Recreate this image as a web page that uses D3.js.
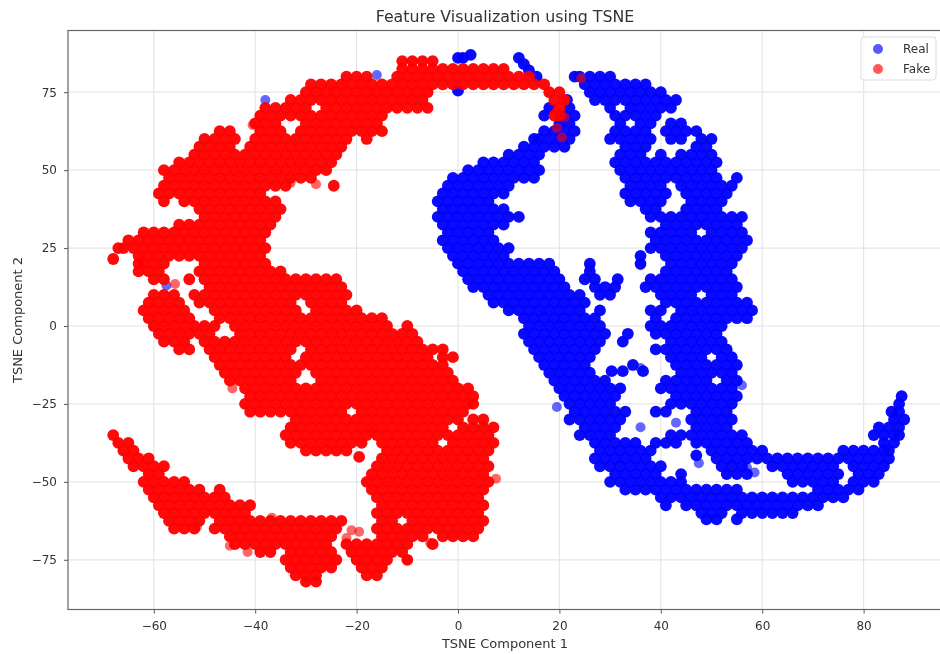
<!DOCTYPE html>
<html><head><meta charset="utf-8">
<script src="https://cdnjs.cloudflare.com/ajax/libs/d3/7.8.5/d3.min.js"></script>
<style>html,body{margin:0;padding:0;background:#fff}svg{display:block;filter:blur(0.55px)}text{font-family:"DejaVu Sans",sans-serif;fill:#333}</style>
</head><body><div id="c"></div>
<script>
const titleText = "Feature Visualization using TSNE";
const xLabel = "TSNE Component 1";
const yLabel = "TSNE Component 2";
const xTicks = [-60,-40,-20,0,20,40,60,80];
const yTicks = [-75,-50,-25,0,25,50,75];
const seriesNames = ["Real","Fake"];
const seriesColors = ["#0000ff","#ff0000"];

// Rows: [y, [x, x, ...]]
const realRows = [
[87,[2.5]],[86,[0,1,12]],[84,[13]],[82,[14]],[80,[15.5,23,24,26,28,30]],
[77.5,[25,27,29,31,33,35,37]],[75.5,[0]],[75,[26,28,30,32,34,36,38,40]],
[72.5,[21.5,27,29,31,33,35,37,39,41,43]],[70,[18,22,30,34,36,38,40,42]],
[67.5,[17,21,23,31,33,35,37,39]],[65,[20,22,32,36,38,42,44]],
[62.5,[17,19,21,23,31,33,35,37,41,43,45,47]],[60,[15,16,18,20,22,30,32,34,36,38,42,44,48,50]],
[57.5,[13,15,17,19,21,33,35,37,47,49]],[55,[10,12,14,16,32,34,36,40,44,46,48,50]],
[52.5,[5,7,9,11,13,15,31,33,35,37,39,41,43,45,47,49,51]],
[50,[2,4,6,8,10,12,14,16,32,34,36,38,40,42,44,46,48,50]],
[47.5,[-1,1,3,5,7,9,11,13,15,33,35,37,39,41,43,45,47,49,51,55]],
[45,[-2,0,2,4,6,8,10,34,36,38,40,44,46,48,50,52,54]],
[42.5,[-3,-1,1,3,5,7,9,33,35,37,39,41,45,47,49,51,53]],
[40,[-4,-2,0,2,4,6,34,36,38,40,46,48,50,52]],
[37.5,[-3,-1,1,3,5,7,9,37,39,45,47,49,51]],
[35,[-4,-2,0,2,4,6,8,10,12,38,40,42,44,46,48,50,52,54,56]],
[32.5,[-3,-1,1,3,5,7,9,41,43,45,47,49,51,53,55]],
[30,[-2,0,2,4,6,38,40,42,44,46,50,52,54,56]],
[27.5,[-3,-1,1,3,5,7,39,41,43,45,47,49,51,53,55,57]],
[25,[-2,0,2,4,6,8,10,38,40,42,44,46,48,50,52,54,56]],
[22.5,[-1,1,3,5,7,9,36,41,43,45,47,49,51,53,55]],
[20,[0,2,4,6,8,10,12,14,16,18,26,36,42,44,46,48,50,52,54]],
[17.5,[1,3,5,7,9,11,13,15,17,19,26,41,43,45,47,49,51,53]],
[15,[2,4,6,8,10,12,14,16,18,20,25,27,31.5,38,40,42,44,46,48,50,52,54]],
[12.5,[3,5,7,9,11,13,15,17,19,21,27,29,31,37,39,41,43,45,47,49,51,53,55]],
[10,[6,8,10,12,14,16,18,20,22,24,28,30,40,42,44,46,50,52,54]],
[7.5,[7,9,11,13,15,17,19,21,23,25,41,43,45,47,49,51,53,55,57]],
[5,[10,12,14,16,18,20,22,24,28,38,40,44,46,48,50,52,54,56,58]],
[2.5,[13,15,17,19,21,23,25,27,39,43,45,47,49,51,53,55,57]],
[0,[14,16,18,20,22,24,26,28,38,40,42,44,46,48,50,52]],
[-2.5,[13,15,17,19,21,23,25,27,29,33.5,39,41,43,45,47,49,51]],
[-5,[14,16,18,20,22,24,26,28,32.5,42,44,46,48,50,52]],
[-7.5,[15,17,19,21,23,25,27,39,41,43,45,47,49,51,53]],
[-10,[16,18,20,22,24,26,42,44,46,48,52,54]],
[-12.5,[17,19,21,23,25,34.5,43,45,47,49,51,53,55]],
[-14.5,[30.3,32.5,36.5]],
[-15,[18,20,22,24,26,44,46,48,50,52,54]],
[-17.5,[19,21,23,25,27,29,41,43,45,47,49,53,55]],
[-20,[20,22,24,26,28,30,32,40,42,44,46,48,50,52,54]],
[-22.5,[21,23,25,27,29,31,43,45,47,49,51,53,55,87.5]],
[-25,[22,24,26,28,30,42,44,46,48,50,52,54,87]],
[-27.5,[23,25,27,29,31,33,39,41,47,49,51,53,85.5,87]],
[-30,[22,24,26,28,30,32,46,48,50,52,54,86,88]],
[-32.5,[25,27,29,31,47,49,51,53,83,85,87]],
[-35,[24,26,28,30,42,44,46,48,50,52,54,56,82,84,86,87]],
[-37.5,[27,29,31,33,35,39,41,43,47,49,51,53,55,57,84,86]],
[-40,[28,30,32,34,36,38,50,52,54,56,58,60,76,78,80,82,84,85]],
[-41.5,[47]],
[-42.5,[27,29,31,33,35,37,51,53,55,57,59,61,63,65,67,69,71,73,75,77,79,81,83,85]],
[-45,[28,30,32,34,36,38,40,52,54,56,62,64,66,68,70,72,74,78,80,82,84]],
[-47.5,[31,33,35,37,39,44,53,55,57,65,67,69,71,73,75,79,81,83]],
[-50,[30,32,34,36,38,40,42,44,66,68,70,72,74,78,80,82]],
[-52.5,[33,35,37,39,41,43,45,47,49,51,53,55,71,73,75,77,79]],
[-55,[40,42,44,46,48,50,52,54,56,58,60,62,64,66,68,70,72,74,76]],
[-57.5,[41,45,47,49,51,53,55,57,59,61,63,65,67,69,71]],
[-60,[48,50,52,56,58,60,62,64,66]],
[-62,[49,51,55]]
];
const realFaint = [[-16,80.5],[-38,72.5],[-57.5,13],[19.5,-26],[36,-32.5],[36,-13.5],[43,-31],[47.5,-44],[57,-45.5],[58.5,-47],[56,-19],[26,19],[36,19.5]];

const fakeRows = [
[85,[-11,-9,-7,-5]],
[82.5,[-11,-9,-7,-5,-3,-1,1,3,5,7,9]],
[80,[-22,-20,-18,-12,-10,-8,-6,-4,-2,0,2,4,6,8,10,12,14]],
[77.5,[-29,-27,-25,-23,-21,-19,-17,-15,-13,-11,-9,-7,-5,-3,-1,1,3,5,7,9,11,13,15,17]],
[75,[-30,-28,-26,-24,-22,-20,-18,-16,-14,-12,-10,-8,-6,18,20]],
[72.5,[-33,-31,-29,-27,-25,-23,-21,-19,-17,-15,-13,-11,-9,-7,19,21]],
[70,[-38,-36,-34,-32,-30,-26,-24,-22,-20,-18,-16,-14,-12,-10,-8,-6,20]],
[67.5,[-39,-37,-35,-33,-31,-29,-27,-25,-23,-21,-19,-17,-15,19,20]],
[65,[-40,-38,-36,-30,-28,-26,-24,-22,-20,-18,-16]],
[62.5,[-47,-45,-39,-37,-35,-31,-29,-27,-25,-23,-21,-19,-17,-15]],
[60,[-50,-48,-46,-44,-40,-38,-36,-34,-32,-30,-28,-26,-24,-22,-18]],
[57.5,[-51,-49,-47,-45,-41,-39,-37,-35,-33,-31,-29,-27,-25,-23]],
[55,[-52,-50,-48,-46,-44,-42,-40,-38,-36,-34,-32,-30,-28,-26,-24]],
[52.5,[-55,-53,-51,-49,-47,-45,-43,-41,-39,-37,-35,-33,-31,-29,-27,-25]],
[50,[-58,-56,-54,-52,-50,-48,-46,-44,-42,-40,-38,-36,-34,-32,-30,-28,-26]],
[47.5,[-57,-55,-53,-51,-49,-47,-45,-43,-41,-39,-37,-35,-33,-31,-29]],
[45,[-58,-56,-54,-52,-50,-48,-46,-44,-42,-40,-38,-36,-34,-24.5]],
[42.5,[-59,-57,-55,-53,-51,-49,-47,-45,-43,-41,-39]],
[40,[-58,-54,-52,-50,-48,-46,-44,-42,-40,-38,-36]],
[37.5,[-51,-49,-47,-45,-43,-41,-39,-37,-35]],
[35,[-50,-48,-46,-44,-42,-40,-38,-36]],
[32.5,[-55,-53,-51,-49,-47,-45,-43,-41,-39,-37]],
[30,[-62,-60,-58,-56,-54,-52,-50,-48,-46,-44,-42,-40,-38]],
[27.5,[-65,-63,-61,-59,-57,-55,-53,-51,-49,-47,-45,-43,-41,-39]],
[25,[-67,-66,-64,-62,-60,-58,-56,-54,-52,-50,-48,-46,-44,-42,-40,-38]],
[22.5,[-63,-61,-59,-57,-55,-53,-51,-49,-47,-45,-43,-41,-39]],
[21.5,[-68]],
[20,[-63,-62,-60,-58,-50,-48,-46,-44,-42,-40,-38]],
[17.5,[-63,-61,-59,-51,-49,-47,-45,-43,-41,-39,-37,-35]],
[15,[-60,-58,-53,-50,-48,-46,-44,-42,-40,-38,-36,-34,-32,-30,-28,-26,-24]],
[12.5,[-49,-47,-45,-43,-41,-39,-37,-35,-33,-31,-29,-27,-25,-23]],
[10,[-60,-58,-56,-52,-50,-48,-46,-44,-42,-40,-38,-36,-34,-32,-30,-28,-26,-24,-22]],
[7.5,[-61,-59,-57,-55,-51,-49,-47,-45,-43,-41,-39,-37,-35,-33,-29,-27,-25,-23]],
[5,[-62,-60,-58,-56,-54,-48,-46,-44,-42,-40,-38,-36,-34,-32,-28,-26,-24,-22,-20]],
[2.5,[-61,-59,-57,-55,-53,-47,-45,-43,-41,-39,-37,-35,-33,-31,-29,-27,-25,-23,-21,-19,-17,-15]],
[0,[-60,-58,-56,-54,-52,-50,-48,-44,-42,-40,-38,-36,-34,-32,-30,-28,-26,-24,-22,-20,-18,-16,-14,-10]],
[-2.5,[-59,-57,-55,-53,-51,-49,-43,-41,-39,-37,-35,-33,-31,-29,-27,-25,-23,-21,-19,-17,-15,-13,-11,-9]],
[-5,[-58,-56,-54,-50,-48,-46,-44,-42,-40,-38,-36,-34,-32,-30,-28,-26,-24,-22,-20,-18,-16,-14,-12,-10,-8]],
[-7.5,[-55,-53,-49,-47,-45,-43,-41,-39,-37,-35,-33,-29,-27,-25,-23,-21,-19,-17,-15,-13,-11,-9,-7,-5,-3]],
[-10,[-48,-46,-44,-42,-40,-38,-36,-34,-30,-28,-26,-24,-22,-20,-18,-16,-14,-12,-10,-8,-6,-3,-1]],
[-12.5,[-47,-45,-43,-41,-39,-37,-35,-33,-31,-29,-27,-25,-23,-21,-19,-17,-15,-13,-11,-9,-7,-5,-3]],
[-15,[-46,-44,-42,-40,-38,-36,-34,-32,-28,-26,-24,-22,-20,-18,-16,-14,-12,-10,-8,-6,-4,-2]],
[-17.5,[-45,-43,-41,-39,-37,-35,-33,-27,-25,-23,-21,-19,-17,-15,-13,-11,-9,-7,-5,-3,-1]],
[-20,[-42,-40,-38,-36,-34,-32,-30,-28,-26,-24,-22,-20,-18,-16,-14,-12,-10,-8,-6,-4,-2,0,2]],
[-22.5,[-41,-39,-37,-35,-33,-31,-29,-27,-25,-23,-21,-19,-17,-15,-13,-11,-9,-7,-5,-3,-1,1,3]],
[-25,[-42,-40,-38,-36,-34,-32,-30,-28,-26,-24,-22,-20,-18,-16,-14,-12,-10,-8,-6,-4,-2,0,2,3]],
[-27.5,[-41,-39,-37,-35,-33,-31,-29,-27,-25,-23,-19,-17,-15,-13,-11,-9,-7,-5,-3,-1,1]],
[-30,[-32,-30,-28,-26,-24,-22,-20,-18,-16,-14,-12,-10,-8,-6,-4,-2,0,3,5]],
[-32.5,[-33,-31,-29,-27,-25,-23,-21,-19,-17,-15,-13,-11,-9,-7,-5,-3,1,3,5,7]],
[-35,[-68,-34,-32,-30,-28,-26,-24,-22,-20,-18,-16,-14,-12,-10,-8,-6,-4,-2,0,2,4,6]],
[-37.5,[-67,-65,-33,-31,-29,-27,-25,-23,-21,-19,-15,-13,-11,-9,-7,-5,-1,1,3,5,7]],
[-40,[-66,-64,-30,-28,-26,-24,-22,-14,-12,-10,-8,-6,-4,-2,0,2,4,6]],
[-42,[-19.5]],
[-42.5,[-65,-63,-61,-15,-13,-11,-9,-7,-5,-3,-1,1,3,5]],
[-45,[-64,-62,-60,-58,-16,-14,-12,-10,-8,-6,-4,-2,0,2,4,6]],
[-47.5,[-61,-59,-17,-15,-13,-11,-9,-7,-5,-3,-1,1,3,5]],
[-50,[-62,-60,-58,-56,-54,-18,-16,-14,-12,-10,-8,-6,-4,-2,0,2,4,6]],
[-52.5,[-61,-59,-57,-55,-53,-51,-47,-17,-15,-13,-11,-9,-7,-5,-3,-1,1,3,5]],
[-55,[-60,-58,-56,-54,-52,-50,-48,-46,-16,-14,-12,-10,-8,-6,-4,-2,0,2,4]],
[-57.5,[-59,-57,-55,-53,-51,-49,-47,-45,-43,-41,-15,-13,-11,-9,-7,-5,-3,-1,1,3,5]],
[-60,[-58,-56,-54,-52,-50,-48,-46,-44,-42,-16,-14,-12,-10,-8,-6,-4,-2,0,2,4]],
[-62.5,[-57,-55,-53,-51,-47,-45,-43,-41,-39,-37,-35,-33,-31,-29,-27,-25,-23,-15,-13,-9,-7,-5,-3,-1,1,3,5]],
[-65,[-56,-54,-52,-48,-46,-44,-42,-40,-38,-36,-34,-32,-30,-28,-26,-24,-16,-14,-12,-10,-8,-6,-4,-2,0,2,4]],
[-67.5,[-45,-43,-41,-39,-37,-35,-33,-31,-29,-27,-25,-15,-13,-11,-9,-7,-3,-1,1,3]],
[-70,[-44,-42,-40,-38,-36,-34,-32,-30,-28,-26,-22,-20,-18,-16,-14,-12,-10,-5]],
[-72.5,[-39,-37,-33,-31,-29,-27,-25,-21,-19,-17,-15,-13,-11]],
[-75,[-34,-32,-30,-28,-26,-24,-20,-18,-16,-14,-10]],
[-77.5,[-33,-31,-29,-27,-25,-19,-17,-15]],
[-80,[-32,-30,-28,-18,-16]],
[-82,[-30,-28]]
];
const fakeFaint = [[19.5,63.5],[21,67],[20.5,60.5],[24.3,79.5],[19.5,69],[-33,46],[-28,45.5],[-55.8,13.5],[-40.5,64.5],[-44.5,-20],[-41.5,-72.5],[-45,-70.5],[-21,-65.5],[-19.5,-66],[-22,-68],[-17,-34],[7.5,-49],[-5.5,-69.5],[-10,-75],[-36.7,-61.5],[-51.5,-64.5]];

const width = 940, height = 654;
const m = {left:68, right:942, top:30.5, bottom:609.5};
const x = d3.scaleLinear().domain([-76.92,95.46]).range([m.left,m.right]);
const y = d3.scaleLinear().domain([-90.95,94.8]).range([m.bottom,m.top]);

const svg = d3.select("#c").append("svg").attr("width",width).attr("height",height);

// grid
svg.append("g").selectAll("line").data(xTicks).join("line")
  .attr("x1",d=>x(d)).attr("x2",d=>x(d)).attr("y1",m.top).attr("y2",m.bottom)
  .attr("stroke","#e6e6e6").attr("stroke-width",1.2);
svg.append("g").selectAll("line").data(yTicks).join("line")
  .attr("y1",d=>y(d)).attr("y2",d=>y(d)).attr("x1",m.left).attr("x2",m.right)
  .attr("stroke","#e6e6e6").attr("stroke-width",1.2);

const flat = rows => rows.flatMap(([yv,xs]) => xs.map(xv => [xv,yv]));
function drawDots(pts,color,op,r){
  svg.append("g").selectAll("circle").data(pts).join("circle")
    .attr("cx",d=>x(d[0])).attr("cy",d=>y(d[1])).attr("r",r)
    .attr("fill",color).attr("fill-opacity",op);
}
drawDots(flat(realRows),seriesColors[0],0.96,5.9);
drawDots(realFaint,seriesColors[0],0.6,5);
drawDots(flat(fakeRows),seriesColors[1],0.96,5.9);
drawDots(fakeFaint,seriesColors[1],0.6,5);

// spines and axes
const minus = d => String(d).replace("-","\u2212");
const xAxis = d3.axisBottom(x).tickValues(xTicks).tickSize(4).tickPadding(8).tickFormat(minus);
const yAxis = d3.axisLeft(y).tickValues(yTicks).tickSize(4).tickPadding(7).tickFormat(minus);
const gx = svg.append("g").attr("transform",`translate(0,${m.bottom})`).call(xAxis);
const gy = svg.append("g").attr("transform",`translate(${m.left},0)`).call(yAxis);
[gx,gy].forEach(g=>{
  g.selectAll("text").style("font-size","12px").style("font-family",'"DejaVu Sans",sans-serif').attr("fill","#333");
  g.selectAll("line").attr("stroke","#555");
  g.select(".domain").remove();
});
svg.append("rect").attr("x",m.left).attr("y",m.top).attr("width",m.right-m.left).attr("height",m.bottom-m.top)
  .attr("fill","none").attr("stroke","#666").attr("stroke-width",1.2);

// title and labels
svg.append("text").attr("x",505).attr("y",22).attr("text-anchor","middle").style("font-size","15.8px").text(titleText);
svg.append("text").attr("x",505).attr("y",648).attr("text-anchor","middle").style("font-size","13px").text(xLabel);
svg.append("text").attr("transform","translate(22,320) rotate(-90)").attr("text-anchor","middle").style("font-size","13px").text(yLabel);

// legend
const lg = svg.append("g");
lg.append("rect").attr("x",861).attr("y",37).attr("width",75).attr("height",43).attr("rx",3)
  .attr("fill","#fff").attr("fill-opacity",0.85).attr("stroke","#ddd");
seriesNames.forEach((n,i)=>{
  const yy = 49+i*20;
  lg.append("circle").attr("cx",878).attr("cy",yy).attr("r",5).attr("fill",seriesColors[i]).attr("fill-opacity",0.65);
  lg.append("text").attr("x",903).attr("y",yy+4).style("font-size","12px").text(n);
});
</script></body></html>
